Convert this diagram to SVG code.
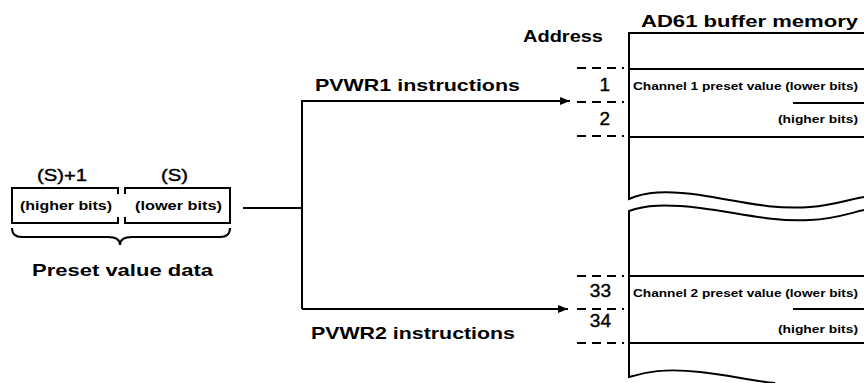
<svg xmlns="http://www.w3.org/2000/svg" width="864" height="383" viewBox="0 0 864 383">
<defs>
<style>
.ln{stroke:#000;stroke-width:2;fill:none}
.ds{stroke:#000;stroke-width:2;fill:none;stroke-dasharray:9 6}
.b{font-family:"Liberation Sans",Arial,sans-serif;font-weight:bold;fill:#000}
.r{font-family:"Liberation Sans",Arial,sans-serif;fill:#000}
.n{font-family:"Liberation Sans",Arial,sans-serif;fill:#000;font-size:19px;text-anchor:end;stroke:#000;stroke-width:0.4}
</style>
<marker id="ah" viewBox="0 0 10 10" refX="10" refY="5" markerWidth="10" markerHeight="10" markerUnits="userSpaceOnUse" orient="auto">
<path d="M0,1 L10,5 L0,9 Z" fill="#000"/>
</marker>
</defs>
<rect width="864" height="383" fill="#fff"/>

<g id="preset-data">
<text class="r" x="37" y="181" font-size="17" textLength="50" lengthAdjust="spacingAndGlyphs" stroke="#000" stroke-width="0.4">(S)+1</text>
<text class="r" x="161" y="181" font-size="17" textLength="27" lengthAdjust="spacingAndGlyphs" stroke="#000" stroke-width="0.4">(S)</text>
<path class="ln" d="M118,194 V188 H12 V223 H118 V217"/>
<path class="ln" d="M125,194 V188 H230 V223 H125 V217"/>
<text class="b" x="20" y="210" font-size="12" textLength="92" lengthAdjust="spacingAndGlyphs">(higher bits)</text>
<text class="b" x="135" y="210" font-size="12" textLength="87" lengthAdjust="spacingAndGlyphs">(lower bits)</text>
<path class="ln" d="M12,228 Q12,237 22,237 H108 Q120,237 120,245 Q120,237 132,237 H220 Q230,237 230,228"/>
<text class="b" x="32" y="276" font-size="17" textLength="181" lengthAdjust="spacingAndGlyphs">Preset value data</text>
</g>

<g id="connectors">
<path class="ln" d="M243,208 H302"/>
<path class="ln" d="M302,309 V101 H570" marker-end="url(#ah)"/>
<path class="ln" d="M302,309 H568" marker-end="url(#ah)"/>
</g>

<g id="labels">
<text class="b" x="315" y="91" font-size="17" textLength="205" lengthAdjust="spacingAndGlyphs">PVWR1 instructions</text>
<text class="b" x="311" y="339" font-size="17" textLength="204" lengthAdjust="spacingAndGlyphs">PVWR2 instructions</text>
<text class="b" x="523" y="42" font-size="17" textLength="80" lengthAdjust="spacingAndGlyphs">Address</text>
</g>

<g id="addresses">
<path class="ds" d="M577,68 H624 M577,102 H624 M577,136 H624"/>
<text class="n" x="610" y="91">1</text>
<text class="n" x="610" y="125">2</text>
<path class="ds" d="M577,276 H624 M577,309 H624 M577,343 H624"/>
<text class="n" x="611" y="297">33</text>
<text class="n" x="611" y="327">34</text>
</g>

<g id="buffer-memory">
<text class="b" x="641" y="27" font-size="17" textLength="217" lengthAdjust="spacingAndGlyphs">AD61 buffer memory</text>
<path class="ln" d="M864,33 H629 V199 C645,192 665,190 700,195 C740,201 770,210 810,207 C835,205 850,199 864,197"/>
<path class="ln" d="M629,69 H864 M629,137 H864"/>
<path class="ln" d="M793,103 H864"/>
<text class="b" x="633" y="90" font-size="10.5" textLength="225" lengthAdjust="spacingAndGlyphs">Channel 1 preset value (lower bits)</text>
<text class="b" x="858" y="123" font-size="10.5" text-anchor="end" textLength="80" lengthAdjust="spacingAndGlyphs">(higher bits)</text>
<path class="ln" d="M864,210 C850,213 835,219 810,220 C770,222 740,213 700,208 C665,204 645,205 629,211 V377 C645,372 665,368 700,372 C730,375 750,381 775,383"/>
<path class="ln" d="M629,276 H864 M629,343 H864"/>
<path class="ln" d="M793,309 H864"/>
<text class="b" x="633" y="297" font-size="10.5" textLength="225" lengthAdjust="spacingAndGlyphs">Channel 2 preset value (lower bits)</text>
<text class="b" x="858" y="333" font-size="10.5" text-anchor="end" textLength="80" lengthAdjust="spacingAndGlyphs">(higher bits)</text>
</g>
</svg>
